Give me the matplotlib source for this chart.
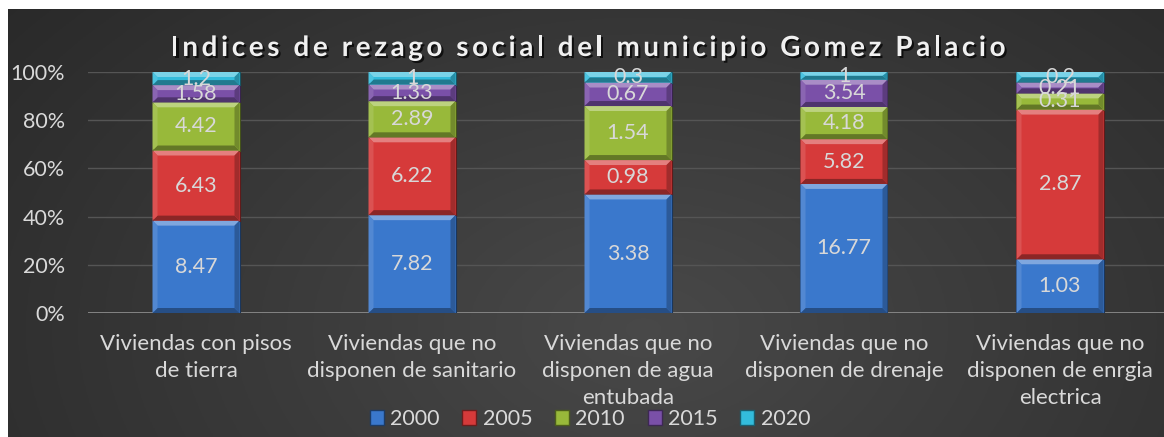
import numpy as np
import matplotlib
matplotlib.use("Agg")
import matplotlib.pyplot as plt
import matplotlib.patheffects as pe
from matplotlib.patches import Polygon, Patch
from matplotlib.colors import to_rgb

plt.rcParams['font.family'] = ['Lato', 'DejaVu Sans']

title = "Indices de rezago social del municipio Gomez Palacio"
categories = [
    "Viviendas con pisos\nde tierra",
    "Viviendas que no\ndisponen de sanitario",
    "Viviendas que no\ndisponen de agua\nentubada",
    "Viviendas que no\ndisponen de drenaje",
    "Viviendas que no\ndisponen de enrgia\nelectrica",
]
years = ["2000", "2005", "2010", "2015", "2020"]
v2000 = [8.47, 7.82, 3.38, 16.77, 1.03]
v2005 = [6.43, 6.22, 0.98, 5.82, 2.87]
v2010 = [4.42, 2.89, 1.54, 4.18, 0.31]
v2015 = [1.58, 1.33, 0.67, 3.54, 0.21]
v2020 = [1.2, 1, 0.3, 1, 0.2]
series = [v2000, v2005, v2010, v2015, v2020]
colors = ["#3a78cc", "#d63a3a", "#98b93a", "#7a50a8", "#33bcdc"]

W, H = 1164, 437
fig = plt.figure(figsize=(W / 100, H / 100), dpi=100, facecolor="white")

# dark panel with soft radial gradient
bg = fig.add_axes([8 / W, 0, 1 - 8 / W, (H - 9) / H])
gx, gy = np.meshgrid(np.linspace(0, 1, 400), np.linspace(0, 1, 200))
r = np.sqrt(((gx - 0.55) / 0.75) ** 2 + ((gy - 0.25) / 1.3) ** 2)
shade = np.clip(0.285 - 0.13 * r, 0.15, 0.3)
bg.imshow(np.dstack([shade] * 3), aspect="auto", extent=[0, 1, 0, 1], origin="lower")
bg.set_axis_off()

ax = fig.add_axes([88 / W, 124 / H, (W - 88) / W, 241 / H])
ax.patch.set_alpha(0)
ax.set_xlim(-0.5, -0.5 + (W - 88) / 216)
ax.set_ylim(0, 100)

x = np.arange(len(categories))
totals = np.sum(series, axis=0)
bar_w = 87 / 216

def mix(c, t, k):
    c = np.array(to_rgb(c)); t = np.array(to_rgb(t))
    return tuple(c + (t - c) * k)

dx = 5 / 216
dy = 5 / 2.41
bottom = np.zeros(len(categories))
for vals, col in zip(series, colors):
    pct = np.array(vals) / totals * 100
    bars = ax.bar(x, pct, bar_w, bottom=bottom, color=col,
                  edgecolor=mix(col, "black", 0.55), linewidth=0.8, zorder=3)
    for b, v, p in zip(bars, vals, pct):
        x0, y0, w, h = b.get_x(), b.get_y(), b.get_width(), b.get_height()
        x1, y1 = x0 + w, y0 + h
        ddy = min(dy, h / 2)
        # bevelled edges of each segment
        ax.add_patch(Polygon([(x0, y1), (x1, y1), (x1 - dx, y1 - ddy), (x0 + dx, y1 - ddy)],
                             closed=True, color=mix(col, "white", 0.35), lw=0, zorder=4))
        ax.add_patch(Polygon([(x0, y0), (x1, y0), (x1 - dx, y0 + ddy), (x0 + dx, y0 + ddy)],
                             closed=True, color=mix(col, "black", 0.35), lw=0, zorder=4))
        ax.add_patch(Polygon([(x0, y0), (x0, y1), (x0 + dx, y1 - ddy), (x0 + dx, y0 + ddy)],
                             closed=True, color=mix(col, "white", 0.12), lw=0, zorder=4))
        ax.add_patch(Polygon([(x1, y0), (x1, y1), (x1 - dx, y1 - ddy), (x1 - dx, y0 + ddy)],
                             closed=True, color=mix(col, "black", 0.25), lw=0, zorder=4))
        ax.text(x0 + w / 2, y0 + h / 2, f"{v:g}", ha="center", va="center",
                color="#d8d8d8", fontsize=15.5, zorder=5)
    bottom += pct

ax.set_yticks(range(0, 101, 20))
ax.set_yticklabels([f"{t}%" for t in range(0, 101, 20)])
ax.grid(axis="y", color="#555555", linewidth=1, zorder=0)
ax.set_axisbelow(True)
for s in ax.spines.values():
    s.set_visible(False)
ax.axhline(0, color="#8a8a8a", linewidth=2, zorder=2)
ax.tick_params(axis="both", length=0, colors="#d9d9d9")
ax.tick_params(axis="y", pad=16.5, labelsize=15.5)
ax.tick_params(axis="x", pad=15, labelsize=16)
ax.set_xticks(x)
ax.set_xticklabels(categories, linespacing=1.45)

# title with widened letter spacing
renderer = fig.canvas.get_renderer()
tkw = dict(fontsize=20, fontweight="bold", color="#f0f0f0")
probe = fig.text(0, 0, title, **tkw)
full_w = probe.get_window_extent(renderer).width
probe.remove()
spacing = (835 - full_w) / (len(title) - 1)
start = 588 - 835 / 2
for i, ch in enumerate(title):
    if ch == " ":
        continue
    pre = fig.text(0, 0, title[:i] + "|", **tkw)
    bar_probe = fig.text(0, 0, "|", **tkw)
    off = pre.get_window_extent(renderer).width - bar_probe.get_window_extent(renderer).width
    pre.remove(); bar_probe.remove()
    fig.text((start + off + i * spacing) / W, 1 - 48 / H, ch, va="center", ha="left",
             path_effects=[pe.withSimplePatchShadow(offset=(1.5, -1.5), shadow_rgbFace="black", alpha=0.7)],
             **tkw)

handles = [Patch(facecolor=c, edgecolor=mix(c, "black", 0.5)) for c in colors]
fig.legend(handles, years, loc="center", bbox_to_anchor=(590 / W, 1 - 419 / H), ncol=5,
           frameon=False, fontsize=15.5, labelcolor="#d9d9d9", handlelength=0.65,
           handleheight=0.65, handletextpad=0.3, columnspacing=1.05)

fig.savefig("out.png", dpi=100, facecolor="white")
